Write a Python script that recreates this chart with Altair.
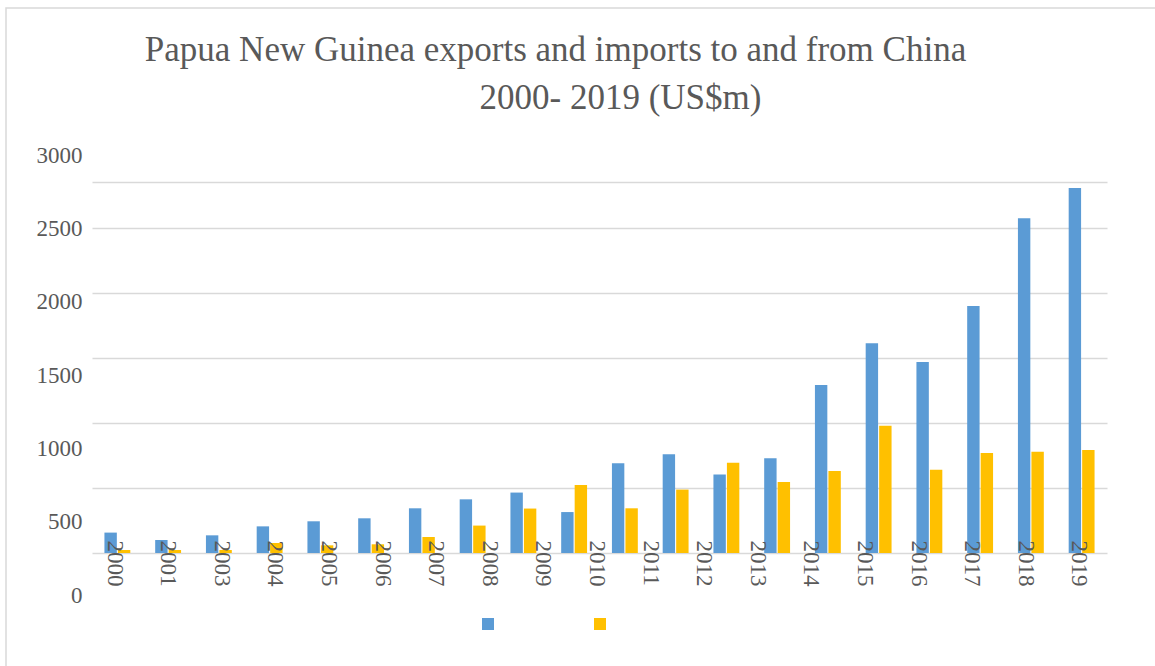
import altair as alt
import pandas as pd

# Bar slots (20 years) and values (US$m)
years = [str(y) for y in range(2000, 2020)]
exports = [157, 100, 136, 205, 244, 267, 344, 413, 465, 315,
           690, 759, 605, 730, 1292, 1615, 1469, 1900, 2577, 2808]
imports = [23, 23, 23, 77, 59, 67, 123, 211, 342, 523,
           344, 488, 695, 546, 631, 979, 641, 769, 779, 792]
series_names = ["Exports", "Imports"]
series_colors = ["#5B9BD5", "#FFC000"]

# Category labels as printed (2002 label absent in the original)
x_labels = ["2000", "2001", "2003", "2004", "2005", "2006", "2007", "2008", "2009",
            "2010", "2011", "2012", "2013", "2014", "2015", "2016", "2017", "2018", "2019"]
y_labels = [0, 500, 1000, 1500, 2000, 2500, 3000]
grid_values = [0, 500, 1000, 1500, 2000, 2500, 2855]

title_lines = ["Papua New Guinea exports and imports to and from China",
               "\u2800" * 5 + "2000- 2019 (US$m)"]

rows = []
for i, y in enumerate(years):
    rows.append({"year": y, "series": series_names[0], "value": exports[i]})
    rows.append({"year": y, "series": series_names[1], "value": imports[i]})
df = pd.DataFrame(rows)

FONT = "Liberation Serif"
TXT = "#595959"

frame = alt.Chart(pd.DataFrame({"f": [0]})).mark_rect(
    fillOpacity=0, stroke="#d9d9d9", strokeWidth=1.5
).encode(
    x=alt.value(-86), x2=alt.value(1075), y=alt.value(-174), y2=alt.value(495)
)

bars = alt.Chart(df).mark_bar().encode(
    x=alt.X("year:N", sort=years,
            scale=alt.Scale(paddingInner=0.49, paddingOuter=0.245), axis=None),
    xOffset=alt.XOffset("series:N", sort=series_names,
                        scale=alt.Scale(paddingInner=0.08)),
    y=alt.Y("value:Q",
            scale=alt.Scale(domain=[0, 2855], nice=False, zero=True),
            axis=alt.Axis(orient="right", values=grid_values, grid=True,
                          labels=False, ticks=False, domain=False, title=None,
                          gridColor="#d9d9d9", gridWidth=1.5)),
    color=alt.Color("series:N", sort=series_names,
                    scale=alt.Scale(domain=series_names, range=series_colors),
                    legend=alt.Legend(orient="none", legendX=390, legendY=436,
                                      direction="horizontal", title=None,
                                      symbolType="square", symbolSize=144,
                                      symbolStrokeWidth=0, labelExpr="''",
                                      labelOffset=0, columnPadding=100,
                                      padding=0))
)

xlab = alt.Chart(pd.DataFrame({"label": x_labels})).mark_point(opacity=0).encode(
    x=alt.X("label:N", sort=x_labels,
            scale=alt.Scale(type="point", padding=0.47, align=0.44),
            axis=alt.Axis(orient="bottom", labelAngle=90, labelPadding=-13,
                          ticks=False, domain=False, grid=False, title=None,
                          labelFont=FONT, labelFontSize=23, labelColor=TXT,
                          zindex=2))
)

ylab = alt.Chart(pd.DataFrame({"v": y_labels})).mark_point(opacity=0).encode(
    y=alt.Y("v:Q",
            scale=alt.Scale(domain=[0, 3000], range=[413, -27], nice=False),
            axis=alt.Axis(orient="left", values=y_labels, format="d",
                          grid=False, ticks=False, domain=False, title=None,
                          labelPadding=10, labelFont=FONT, labelFontSize=23,
                          labelColor=TXT))
)

chart = alt.layer(frame, bars, xlab, ylab).resolve_scale(
    x="independent", y="independent"
).properties(
    width=1015, height=371,
    background="white",
    autosize=alt.AutoSizeParams(type="none"),
    padding={"left": 92, "top": 182, "right": 48, "bottom": 113},
    title=alt.TitleParams(text=title_lines, anchor="middle", dx=-44,
                          font=FONT, fontSize=35, fontWeight="normal",
                          color=TXT, lineHeight=48, offset=-109),
).configure_view(stroke="transparent")

chart.save("out.html", embed_options={"renderer": "svg", "actions": False})
